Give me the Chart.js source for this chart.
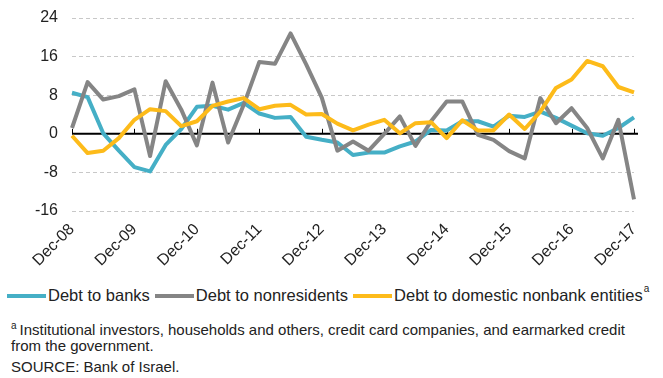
<!DOCTYPE html>
<html>
<head>
<meta charset="utf-8">
<script src="https://cdn.jsdelivr.net/npm/chart.js@4.4.1/dist/chart.umd.min.js"></script>
<style>
  body { margin: 0; background: #fff; font-family: "Liberation Sans", Arial, sans-serif; color: #222; }
  #wrap { position: relative; width: 663px; height: 378px; overflow: hidden; }
  #chartBox { position: absolute; left: 0; top: 0; width: 663px; height: 276px; }
  #legend { position: absolute; left: 7px; top: 286px; font-size: 16.5px; white-space: nowrap; display: flex; align-items: center; }
  #legend .sw { display: inline-block; width: 39px; height: 4px; margin-right: 2px; }
  #legend .item { display: flex; align-items: center; margin-right: 5px; }
  #legend sup { font-size: 10px; position: relative; top: -7px; margin-left: 1px; }
  #notes { position: absolute; left: 11px; top: 318px; font-size: 15px; line-height: 16px; }
  #notes .src { margin-top: 5px; }
  #notes sup { font-size: 10px; margin-right: 3px; }
</style>
</head>
<body>
<div id="wrap">
  <div id="chartBox"><canvas id="debtChart" width="663" height="276"></canvas></div>
  <div id="legend"></div>
  <div id="notes">
    <div><sup>a</sup>Institutional investors, households and others, credit card companies, and earmarked credit<br>from the government.</div>
    <div class="src">SOURCE: Bank of Israel.</div>
  </div>
</div>
<script>
// 분기별 카테고리 (Dec-08 ~ Dec-17)
const categories = [
  'Dec-08', 'Mar-09', 'Jun-09', 'Sep-09', 'Dec-09', 'Mar-10', 'Jun-10', 'Sep-10',
  'Dec-10', 'Mar-11', 'Jun-11', 'Sep-11', 'Dec-11', 'Mar-12', 'Jun-12', 'Sep-12',
  'Dec-12', 'Mar-13', 'Jun-13', 'Sep-13', 'Dec-13', 'Mar-14', 'Jun-14', 'Sep-14',
  'Dec-14', 'Mar-15', 'Jun-15', 'Sep-15', 'Dec-15', 'Mar-16', 'Jun-16', 'Sep-16',
  'Dec-16', 'Mar-17', 'Jun-17', 'Sep-17', 'Dec-17'
];

const debtToBanks = [
  8.5, 7.6, 0.1, -3.5, -6.9, -7.8, -2.3, 1.0, 5.6, 5.8, 5.0, 6.4, 4.2, 3.3, 3.5, -0.6,
  -1.25, -1.8, -4.4, -3.9, -3.9, -2.6, -1.6, 0.8, 0.7, 2.6, 2.6, 1.5, 3.75, 3.5, 4.6, 3.3,
  1.7, 0.1, -0.4, 1.2, 3.4
];

const debtToNonresidents = [
  1.2, 10.7, 7.1, 7.8, 9.2, -4.6, 10.9, 5.0, -2.4, 10.6, -1.8, 6.0, 14.9, 14.5, 20.8, 14.4,
  7.5, -3.5, -1.6, -3.5, 0.0, 3.6, -2.5, 2.6, 6.7, 6.7, -0.2, -1.25, -3.6, -5.1, 7.4, 2.2,
  5.3, 1.2, -5.1, 2.9, -13.6
];

const debtToDomesticNonbank = [
  -0.4, -4.0, -3.5, -0.9, 2.9, 5.1, 4.7, 1.6, 2.6, 5.8, 6.7, 7.4, 5.1, 5.8, 6.0, 4.0,
  4.1, 2.1, 0.7, 1.9, 2.9, 0.1, 2.2, 2.4, -0.9, 2.8, 0.7, 0.7, 4.0, 1.0, 4.6, 9.5,
  11.25, 15.1, 14.0, 9.7, 8.6
];

const yTicks = [-16, -8, 0, 8, 16, 24];

const seriesNames = ['Debt to banks', 'Debt to nonresidents', 'Debt to domestic nonbank entities'];
const seriesColors = ['#45AFC6', '#858585', '#FDBB1A'];

// 0선 + 연도 눈금
const zeroLine = {
  id: 'zeroLine',
  beforeDatasetsDraw(chart) {
    const { ctx, chartArea, scales: { x, y } } = chart;
    const y0 = y.getPixelForValue(0);
    ctx.save();
    ctx.strokeStyle = '#000';
    ctx.lineWidth = 2;
    ctx.beginPath();
    ctx.moveTo(chartArea.left, y0);
    ctx.lineTo(chartArea.right + 4, y0);
    ctx.stroke();
    ctx.lineWidth = 1;
    ctx.beginPath();
    categories.forEach((c, i) => {
      if (i % 4 === 0) {
        const px = Math.round(x.getPixelForValue(i)) + 0.5;
        ctx.moveTo(px, y0);
        ctx.lineTo(px, y0 - 5);
      }
    });
    ctx.stroke();
    ctx.restore();
  }
};

const values = [debtToBanks, debtToNonresidents, debtToDomesticNonbank];
const orders = [2, 1, 0];

new Chart(document.getElementById('debtChart'), {
  type: 'line',
  data: {
    labels: categories,
    datasets: values.map((v, k) => ({
      label: seriesNames[k],
      data: v,
      borderColor: seriesColors[k],
      backgroundColor: seriesColors[k],
      borderWidth: 4,
      pointRadius: 0,
      tension: 0,
      borderJoinStyle: 'round',
      order: orders[k]
    }))
  },
  options: {
    responsive: false,
    animation: false,
    layout: { padding: { top: 18, right: 29, left: 0, bottom: 0 } },
    plugins: { legend: { display: false }, tooltip: { enabled: false } },
    scales: {
      x: {
        type: 'category',
        grid: { display: false, drawTicks: false },
        border: { display: false },
        ticks: {
          autoSkip: false,
          maxRotation: 45,
          minRotation: 45,
          padding: 9,
          color: '#222',
          font: { family: '"Liberation Sans", Arial, sans-serif', size: 16 },
          callback: (v, i) => (i % 4 === 0 ? categories[i] : null)
        },
        afterFit: (scale) => { scale.height = 65; }
      },
      y: {
        min: yTicks[0],
        max: yTicks[yTicks.length - 1],
        afterBuildTicks: (scale) => { scale.ticks = yTicks.map(v => ({ value: v })); },
        grid: {
          drawTicks: false,
          color: (ctx) => (ctx.tick && ctx.tick.value === 0 ? 'rgba(0,0,0,0)' : '#C8C8C8'),
          lineWidth: 1
        },
        border: { display: false, dash: [4, 3] },
        ticks: {
          padding: 14,
          color: '#222',
          font: { family: '"Liberation Sans", Arial, sans-serif', size: 16, lineHeight: 0.5 }
        },
        afterFit: (scale) => { scale.width = 72; }
      }
    }
  },
  plugins: [zeroLine]
});

// HTML 범례
const legendEl = document.getElementById('legend');
seriesNames.forEach((name, k) => {
  const item = document.createElement('span');
  item.className = 'item';
  item.innerHTML = `<span class="sw" style="background:${seriesColors[k]}"></span>${name}` +
    (k === 2 ? '<sup>a</sup>' : '');
  legendEl.appendChild(item);
});
</script>
</body>
</html>
